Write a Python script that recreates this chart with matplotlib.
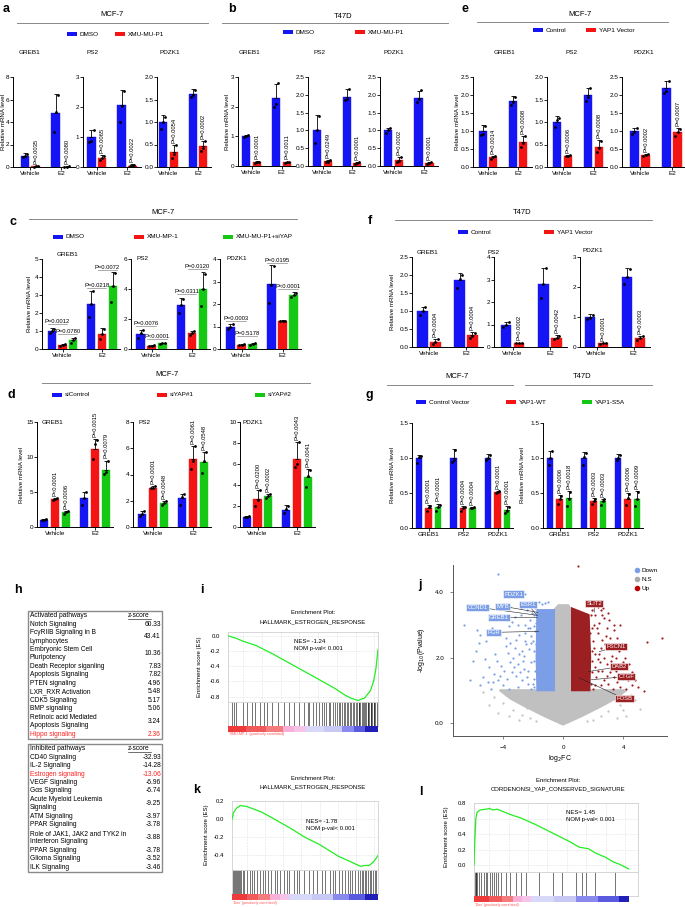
import numpy as np
import matplotlib
matplotlib.use('Agg')
import matplotlib.pyplot as plt
from matplotlib.patches import Rectangle
from matplotlib.lines import Line2D

plt.rcParams['font.family'] = ['Liberation Sans', 'DejaVu Sans']

W, H = 685, 907
fig = plt.figure(figsize=(W / 100, H / 100), dpi=100)

BLUE = '#1414f5'
RED = '#f51414'
GREEN = '#14c814'

# ---------------- data: panel a (MCF-7, DMSO vs XMU-MU-P1) ----------------
genes = ['GREB1', 'PS2', 'PDZK1']
conds = ['Vehicle', 'E2']

a_dmso = [[1.0, 4.8], [1.0, 2.07], [1.0, 1.63]]
a_dmso_sd = [[0.25, 1.65], [0.25, 0.5], [0.15, 0.1]]
a_dmso_pts = [[[0.85, 1.0, 1.2], [3.1, 4.9, 6.4]], [[0.85, 0.88, 1.25], [1.5, 2.05, 2.55]],
              [[0.85, 1.0, 1.12], [1.55, 1.6, 1.72]]]
a_xmu = [[0.05, 0.04], [0.3, 0.05], [0.33, 0.46]]
a_xmu_sd = [[0.02, 0.02], [0.1, 0.04], [0.15, 0.11]]
a_xmu_pts = [[[0.03, 0.05, 0.06], [0.03, 0.04, 0.05]], [[0.22, 0.3, 0.38], [0.03, 0.06, 0.08]],
             [[0.2, 0.3, 0.48], [0.35, 0.42, 0.57]]]
a_p = [['P=0.0035', 'P=0.0080'], ['P=0.0065', 'P=0.0022'], ['P=0.0054', 'P=0.0002']]
a_yticks = [[0, 2, 4, 6, 8], [0, 1, 2, 3], [0, 0.5, 1.0, 1.5, 2.0]]

# panel b (T47D)
b_dmso = [[1.0, 2.28], [1.0, 1.95], [1.0, 1.92]]
b_dmso_sd = [[0.03, 0.47], [0.42, 0.2], [0.07, 0.2]]
b_dmso_pts = [[[0.98, 1.0, 1.03], [2.0, 2.1, 2.8]], [[0.65, 1.0, 1.4], [1.85, 1.87, 2.15]],
              [[0.93, 1.0, 1.07], [1.8, 1.87, 2.13]]]
b_xmu = [[0.13, 0.13], [0.13, 0.08], [0.17, 0.08]]
b_xmu_sd = [[0.03, 0.02], [0.05, 0.03], [0.09, 0.03]]
b_xmu_pts = [[[0.1, 0.13, 0.15], [0.11, 0.13, 0.14]], [[0.1, 0.12, 0.17], [0.06, 0.08, 0.1]],
             [[0.1, 0.13, 0.25], [0.06, 0.08, 0.1]]]
b_p = [['P<0.0001', 'P=0.0011'], ['P=0.0249', 'P<0.0001'], ['P=0.0002', 'P<0.0001']]
b_yticks = [[0, 1, 2, 3], [0, 0.5, 1.0, 1.5, 2.0, 2.5], [0, 0.5, 1.0, 1.5, 2.0, 2.5]]

# panel e (MCF-7, Control vs YAP1 Vector)
e_ctrl = [[1.0, 1.82], [1.0, 1.6], [1.0, 2.19]]
e_ctrl_sd = [[0.17, 0.15], [0.13, 0.16], [0.08, 0.21]]
e_ctrl_pts = [[[0.9, 0.92, 1.15], [1.72, 1.8, 1.95]], [[0.88, 1.05, 1.1], [1.47, 1.55, 1.75]],
              [[0.93, 0.98, 1.07], [2.05, 2.1, 2.4]]]
e_yap = [[0.27, 0.69], [0.25, 0.45], [0.34, 0.97]]
e_yap_sd = [[0.04, 0.18], [0.01, 0.15], [0.03, 0.1]]
e_yap_pts = [[[0.23, 0.27, 0.31], [0.55, 0.66, 0.85]], [[0.24, 0.25, 0.26], [0.33, 0.42, 0.58]],
             [[0.3, 0.33, 0.37], [0.87, 0.97, 1.06]]]
e_p = [['P=0.0014', 'P=0.0008'], ['P=0.0006', 'P=0.0008'], ['P=0.0002', 'P=0.0007']]
e_yticks = [[0, 0.5, 1.0, 1.5, 2.0, 2.5], [0, 0.5, 1.0, 1.5, 2.0], [0, 0.5, 1.0, 1.5, 2.0, 2.5]]

# panel f (T47D, Control vs YAP1 Vector)
f_ctrl = [[1.0, 1.85], [1.0, 2.8], [1.0, 2.35]]
f_ctrl_sd = [[0.12, 0.2], [0.1, 0.7], [0.1, 0.3]]
f_ctrl_pts = [[[0.9, 1.0, 1.1], [1.65, 1.9, 2.0]], [[0.9, 1.0, 1.1], [2.2, 2.8, 3.5]],
              [[0.92, 0.98, 1.08], [2.1, 2.35, 2.6]]]
f_yap = [[0.15, 0.32], [0.18, 0.42], [0.12, 0.3]]
f_yap_sd = [[0.08, 0.1], [0.02, 0.1], [0.02, 0.08]]
f_yap_pts = [[[0.08, 0.15, 0.22], [0.25, 0.3, 0.4]], [[0.16, 0.18, 0.2], [0.35, 0.42, 0.5]],
             [[0.11, 0.12, 0.14], [0.25, 0.3, 0.36]]]
f_p = [['P=0.0004', 'P=0.0004'], ['P=0.0002', 'P=0.0042'], ['P=0.0001', 'P=0.0003']]
f_yticks = [[0, 0.5, 1.0, 1.5, 2.0, 2.5], [0, 1, 2, 3, 4], [0, 1, 2, 3]]

# panel c (MCF-7, DMSO / XMU-MP-1 / XMU-MU-P1+siYAP)
c_dmso = [[1.0, 2.5], [1.0, 2.93], [1.0, 2.88]]
c_dmso_sd = [[0.15, 0.75], [0.28, 0.47], [0.12, 0.84]]
c_dmso_pts = [[[0.88, 1.0, 1.12], [1.8, 2.5, 3.25]], [[0.75, 1.05, 1.25], [2.4, 2.95, 3.35]],
              [[0.88, 1.0, 1.1], [2.05, 2.85, 3.7]]]
c_xmu = [[0.22, 0.85], [0.22, 1.1], [0.2, 1.25]]
c_xmu_sd = [[0.05, 0.3], [0.03, 0.1], [0.02, 0.02]]
c_xmu_pts = [[[0.18, 0.22, 0.26], [0.55, 0.85, 1.12]], [[0.2, 0.22, 0.24], [0.95, 1.1, 1.18]],
             [[0.19, 0.2, 0.21], [1.24, 1.25, 1.26]]]
c_si = [[0.48, 3.5], [0.38, 4.03], [0.22, 2.4]]
c_si_sd = [[0.14, 0.8], [0.04, 1.12], [0.04, 0.12]]
c_si_pts = [[[0.33, 0.48, 0.6], [2.6, 3.5, 4.2]], [[0.35, 0.38, 0.41], [2.85, 4.0, 5.0]],
            [[0.2, 0.22, 0.25], [2.3, 2.4, 2.5]]]
# (group, series a, series b, bracket height, label)
c_brackets = [
    [(0, 0, 1, 1.4, 'P=0.0012'), (0, 1, 2, 0.81, 'P=0.0780'), (1, 0, 1, 3.37, 'P=0.0218'), (1, 1, 2, 4.4, 'P=0.0072')],
    [(0, 0, 1, 1.55, 'P=0.0076'), (0, 1, 2, 0.64, 'P<0.0001'), (1, 0, 1, 3.67, 'P=0.0311'), (1, 1, 2, 5.33, 'P=0.0120')],
    [(0, 0, 1, 1.24, 'P=0.0003'), (0, 1, 2, 0.59, 'P=0.5178'), (1, 0, 1, 3.84, 'P=0.0195'), (1, 1, 2, 2.68, 'P<0.0001')],
]
c_yticks = [[0, 1, 2, 3, 4, 5], [0, 2, 4, 6], [0, 1, 2, 3, 4]]

# panel d (MCF-7, siControl / siYAP#1 / siYAP#2)
d_si = [[1.0, 4.1], [1.0, 2.2], [1.0, 1.65]]
d_si_sd = [[0.1, 0.9], [0.2, 0.35], [0.05, 0.4]]
d_si_pts = [[[0.95, 1.0, 1.08], [3.2, 4.1, 5.0]], [[0.85, 1.0, 1.2], [1.7, 2.3, 2.55]],
            [[0.95, 1.0, 1.05], [1.3, 1.7, 2.0]]]
d_y1 = [[4.0, 11.2], [3.0, 5.2], [2.7, 6.5]]
d_y1_sd = [[0.2, 1.4], [0.15, 1.0], [0.85, 1.6]]
d_y1_pts = [[[3.9, 4.0, 4.2], [9.7, 11.8, 12.4]], [[2.95, 3.0, 3.15], [4.45, 5.0, 6.2]],
            [[2.0, 2.6, 3.5], [5.7, 6.0, 8.1]]]
d_y2 = [[2.1, 8.2], [1.8, 4.95], [2.95, 4.75]]
d_y2_sd = [[0.2, 1.3], [0.15, 0.75], [0.2, 0.75]]
d_y2_pts = [[[1.9, 2.1, 2.3], [7.6, 7.8, 9.4]], [[1.65, 1.85, 1.95], [4.1, 5.0, 5.7]],
            [[2.75, 2.95, 3.15], [3.8, 4.9, 5.4]]]
d_p_y1 = [['P<0.0001', 'P=0.0015'], ['P=0.0001', 'P=0.0061'], ['P=0.0200', 'P=0.0043']]
d_p_y2 = [['P=0.0006', 'P=0.0079'], ['P=0.0048', 'P=0.0548'], ['P=0.0002', 'P=0.0041']]
d_yticks = [[0, 5, 10, 15], [0, 2, 4, 6, 8], [0, 2, 4, 6, 8, 10]]

# panel g (Control Vector / YAP1-WT / YAP1-S5A), left MCF-7, right T47D
g_ctrl = [[1.0, 1.0, 1.0], [1.0, 1.0, 1.0]]
g_ctrl_sd = [[0.05, 0.13, 0.06], [0.1, 0.08, 0.06]]
g_ctrl_pts = [[[0.93, 1.02, 1.03], [0.95, 0.97, 1.12], [0.97, 1.0, 1.04]],
              [[0.9, 1.0, 1.1], [0.9, 1.02, 1.07], [0.97, 1.0, 1.05]]]
g_wt = [[0.29, 0.28, 0.52], [0.41, 0.38, 0.42]]
g_wt_sd = [[0.04, 0.03, 0.01], [0.06, 0.05, 0.08]]
g_wt_pts = [[[0.25, 0.3, 0.31], [0.25, 0.28, 0.3], [0.5, 0.52, 0.53]],
            [[0.34, 0.41, 0.46], [0.34, 0.38, 0.42], [0.33, 0.43, 0.49]]]
g_s5a = [[0.3, 0.29, 0.26], [0.43, 0.38, 0.42]]
g_s5a_sd = [[0.05, 0.01, 0.06], [0.1, 0.04, 0.11]]
g_s5a_pts = [[[0.25, 0.3, 0.33], [0.28, 0.29, 0.3], [0.21, 0.25, 0.3]],
             [[0.32, 0.42, 0.52], [0.33, 0.39, 0.41], [0.32, 0.42, 0.52]]]
g_p_wt = [['P<0.0001', 'P=0.0004', 'P<0.0001'], ['P=0.0006', 'P=0.0003', 'P=0.0006']]
g_p_s5a = [['P<0.0001', 'P=0.0004', 'P<0.0001'], ['P=0.0018', 'P=0.0003', 'P=0.0009']]
g_yticks = [0, 0.5, 1.0, 1.5]

# panel h (IPA table)
act_names = ['Notch Signaling', 'FcγRIIB Signaling in B\nLymphocytes', 'Embryonic Stem Cell\nPluripotency',
             'Death Receptor siganling', 'Apoptosis Signaling', 'PTEN signaling', 'LXR_RXR Activation',
             'CDK5 Signaling', 'BMP signaling', 'Retinoic acid Mediated\nApoptosis Signaling', 'Hippo signaling']
act_z = [60.33, 43.41, 10.36, 7.83, 7.82, 4.96, 5.48, 5.17, 5.06, 3.24, 2.36]
inh_names = ['CD40 Signaling', 'IL-2 Signaling', 'Estrogen signaling', 'VEGF Signaling', 'Gαs Signaling',
             'Acute Myeloid Leukemia\nSignaling', 'ATM Signaling', 'PPAR Signaling',
             'Role of JAK1, JAK2 and TYK2 in\nInterferon Signaling', 'PPAR Signaling', 'Glioma Signaling',
             'ILK Signaling']
inh_z = [-32.93, -14.28, -13.06, -6.96, -6.74, -9.25, -3.97, -3.78, -3.88, -3.78, -3.52, -3.46]
act_highlight = 'Hippo signaling'
inh_highlight = 'Estrogen signaling'

# GSEA running enrichment scores and hit positions (fraction of ranked list)
i_x = [0, 0.05, 0.1, 0.19, 0.3, 0.41, 0.52, 0.63, 0.72, 0.78, 0.82, 0.85, 0.87, 0.89, 0.91, 0.93, 0.95,
       0.97, 0.985, 1.0]
i_es = [0, -0.03, -0.07, -0.13, -0.24, -0.36, -0.48, -0.6, -0.7, -0.78, -0.82, -0.84, -0.85, -0.83, -0.82,
        -0.77, -0.72, -0.6, -0.45, -0.18]
i_hits = [0.026, 0.037, 0.055, 0.103, 0.129, 0.158, 0.179, 0.212, 0.239, 0.26, 0.295, 0.333, 0.376, 0.409,
          0.442, 0.475, 0.508, 0.53, 0.54, 0.567, 0.584, 0.606, 0.624, 0.639, 0.654, 0.672, 0.683, 0.698,
          0.716, 0.726, 0.737, 0.748, 0.759, 0.77, 0.78, 0.79, 0.8, 0.81, 0.82, 0.83, 0.84, 0.85, 0.86, 0.87,
          0.875, 0.88, 0.89, 0.9, 0.905, 0.91, 0.92, 0.93, 0.935, 0.94, 0.95, 0.955, 0.96, 0.97, 0.975, 0.98,
          0.99]
k_x = [0, 0.01, 0.03, 0.057, 0.1, 0.2, 0.28, 0.4, 0.5, 0.6, 0.73, 0.8, 0.88, 0.91, 0.94, 0.97, 1.0]
k_es = [0.0, 0.07, 0.12, 0.15, 0.14, 0.08, 0.01, -0.1, -0.2, -0.28, -0.41, -0.46, -0.52, -0.51, -0.51,
        -0.47, -0.4]
k_hits = [0.005, 0.012, 0.02, 0.028, 0.035, 0.043, 0.05, 0.058, 0.065, 0.075, 0.085, 0.1, 0.12, 0.137,
          0.153, 0.169, 0.191, 0.209, 0.227, 0.247, 0.265, 0.292, 0.308, 0.326, 0.353, 0.375, 0.393, 0.427,
          0.443, 0.461, 0.494, 0.528, 0.555, 0.584, 0.618, 0.64, 0.674, 0.69, 0.708, 0.735, 0.753, 0.775,
          0.793, 0.809, 0.825, 0.843, 0.865, 0.876, 0.888, 0.9, 0.91, 0.92, 0.933, 0.944, 0.955, 0.966,
          0.978, 0.989]
l_x = [0, 0.005, 0.012, 0.02, 0.04, 0.08, 0.1, 0.12, 0.15, 0.2, 0.25, 0.3, 0.4, 0.47, 0.55, 0.62, 0.68,
       0.74, 0.79, 0.85, 0.9, 0.94, 1.0]
l_es = [0.0, 0.3, 0.6, 0.68, 0.71, 0.72, 0.73, 0.71, 0.72, 0.68, 0.64, 0.61, 0.52, 0.45, 0.37, 0.3, 0.23,
        0.21, 0.15, 0.1, 0.04, 0.01, -0.05]
l_hits = [0.005, 0.01, 0.015, 0.02, 0.03, 0.047, 0.062, 0.075, 0.084, 0.101, 0.118, 0.127, 0.14, 0.155,
          0.176, 0.204, 0.234, 0.273, 0.305, 0.338, 0.419, 0.51, 0.57, 0.66, 0.699, 0.725, 0.785, 0.914]

rank_colors = ['#ee3a3a', '#f05a5a', '#f47c7c', '#f8b0d8', '#f5c4e8', '#d8d8f8', '#c8c8f4', '#8a8aee',
               '#5a5ae0', '#2020b8']
i_rank_edges = [0, 0.12, 0.25, 0.365, 0.44, 0.52, 0.64, 0.76, 0.84, 0.91, 1.0]
k_rank_edges = [0, 0.1, 0.18, 0.26, 0.33, 0.39, 0.55, 0.69, 0.8, 0.91, 1.0]
l_rank_edges = [0, 0.1, 0.18, 0.25, 0.31, 0.37, 0.52, 0.66, 0.8, 0.94, 1.0]

# panel j volcano (log2FC, -log10 P)
down_pts = [(-6.6, 3.0), (-5.7, 2.85), (-5.5, 2.7), (-5.6, 2.45), (-5.8, 2.2), (-5.2, 1.95), (-4.9, 1.7),
            (-4.6, 1.5), (-4.3, 1.3), (-4.0, 1.15), (-3.8, 2.6), (-3.6, 1.05), (-3.4, 3.1), (-3.2, 2.3),
            (-3.0, 1.8), (-2.8, 3.5), (-2.6, 2.05), (-2.4, 1.4), (-2.2, 2.9), (-2.0, 1.2), (-1.9, 3.3),
            (-1.8, 2.4), (-5.0, 1.25), (-4.5, 2.1), (-4.2, 2.75), (-3.9, 1.6), (-3.5, 1.85), (-3.1, 2.55),
            (-2.7, 2.2), (-2.3, 1.6), (-2.1, 2.65), (-1.95, 1.9), (-4.8, 1.05), (-4.4, 1.9), (-3.7, 1.35),
            (-3.3, 2.0), (-2.9, 2.7), (-2.5, 3.0), (-2.2, 3.15), (-1.85, 2.8), (-3.0, 1.1), (-2.6, 1.65),
            (-2.4, 3.45), (-2.0, 2.5), (-3.8, 2.35), (-3.4, 1.55), (-2.8, 3.3), (-2.3, 2.9), (-1.9, 1.35),
            (-4.1, 1.75), (-3.6, 2.95), (-3.2, 3.25), (-2.7, 1.3), (-2.1, 1.85), (-1.8, 3.05), (-2.7, 4.0),
            (-2.5, 3.95), (-1.6, 3.7), (-1.4, 3.65), (-1.2, 3.68), (-1.0, 3.7), (-4.3, 4.55), (-5.3, 1.4),
            (-6.0, 1.9), (-4.7, 2.9), (-3.9, 3.3), (-5.1, 2.5), (-2.45, 2.4), (-2.15, 1.05), (-1.9, 2.2),
            (-3.5, 2.45), (-3.1, 1.45), (-2.9, 2.1), (-2.55, 2.75), (-2.25, 2.25), (-2.05, 3.35), (-1.95, 2.95),
            (-1.85, 1.6), (-2.35, 1.2), (-2.65, 1.9), (-3.25, 1.7), (-3.65, 2.15), (-4.15, 1.45), (-4.65, 1.25),
            (-2.85, 1.55), (-2.15, 2.45), (-1.9, 1.1), (-2.5, 2.5), (-3.0, 3.0), (-3.55, 3.55), (-2.05, 3.6),
            (-1.85, 3.5), (-5.5, 1.15), (-6.2, 1.3), (-4.4, 3.2)]
up_pts = [(6.6, 2.6), (5.55, 2.48), (5.4, 0.98), (4.6, 1.15), (4.3, 1.3), (4.0, 1.5), (3.7, 1.7), (3.5, 2.0),
          (3.3, 2.3), (3.1, 2.6), (2.9, 2.9), (2.7, 3.2), (2.5, 3.45), (2.3, 3.55), (2.1, 3.3), (2.0, 2.5),
          (1.9, 1.9), (1.85, 1.2), (2.2, 1.4), (2.4, 2.1), (2.6, 1.6), (2.8, 2.4), (3.0, 1.2), (3.2, 1.9),
          (3.4, 1.4), (3.6, 2.6), (3.8, 1.1), (4.1, 2.0), (4.4, 1.8), (4.8, 1.3), (2.3, 2.75), (2.05, 3.0),
          (1.95, 2.2), (2.15, 1.7), (2.5, 1.15), (2.75, 2.0), (3.05, 3.15), (3.4, 2.85), (3.9, 2.4),
          (4.6, 1.55), (2.6, 2.55), (2.2, 3.6), (1.9, 3.45), (2.9, 1.45), (3.3, 1.05), (1.0, 4.8), (1.7, 3.7),
          (2.6, 3.3), (3.0, 3.35), (1.8, 2.75), (3.6, 1.25), (4.2, 1.05), (2.45, 1.85), (2.0, 1.05),
          (2.05, 2.3), (2.25, 2.9), (2.35, 1.95), (2.55, 2.3), (2.7, 1.3), (2.85, 2.65), (3.15, 1.55),
          (3.25, 2.05), (3.5, 1.6), (3.7, 2.2), (3.95, 1.35), (2.4, 3.05), (1.95, 1.55), (1.9, 2.9),
          (2.15, 1.15), (2.65, 3.5), (2.95, 1.8), (3.35, 3.0), (4.0, 1.85), (4.5, 1.4), (5.0, 1.1), (2.1, 2.1),
          (2.3, 1.6), (1.85, 3.3), (3.8, 3.0)]
ns_pts = [(-5.3, 0.95), (-4.6, 0.8), (-4.0, 0.6), (-3.3, 0.4), (-2.7, 0.25), (-2.2, 0.15), (-4.9, 0.55),
          (-3.7, 0.85), (4.5, 0.85), (5.1, 0.43), (3.8, 0.55), (3.0, 0.35), (2.5, 0.2), (4.2, 0.2), (4.8, 0.7),
          (3.4, 0.8), (0.3, 3.6), (-0.2, 3.55), (-3.0, 0.65), (2.0, 0.1), (-1.8, 0.05), (-4.3, 0.3),
          (-3.6, 0.2), (-2.9, 0.1), (3.6, 0.15), (4.0, 0.4), (2.8, 0.6), (-2.4, 0.45), (1.6, 0.05)]
# outlines of the densely packed point clouds
ns_env = [(0, -0.05), (-1.2, 0.2), (-2.5, 0.5), (-3.5, 0.75), (-4.2, 1.0), (-0.6, 1.0), (-0.6, 3.45),
          (-0.3, 3.6), (0.3, 3.6), (0.6, 3.45), (0.6, 1.0), (4.2, 1.0), (3.5, 0.75), (2.5, 0.5), (1.2, 0.2)]
down_env = [(-0.6, 1.0), (-1.7, 1.0), (-1.75, 2.0), (-1.7, 3.45), (-0.6, 3.45)]
up_env = [(0.6, 1.0), (1.75, 1.0), (1.8, 2.0), (1.7, 3.3), (0.6, 3.5)]
down_genes = ['PDZK1', 'CCND1', 'MYB', 'ESR1', 'GREB1', 'PGR']
down_gene_xy = [(-3.27, 3.94), (-1.67, 3.29), (-1.67, 3.38), (-1.75, 3.3), (-1.7, 3.22), (-1.6, 2.8)]
down_box_xy = [(-3.27, 3.94), (-5.67, 3.54), (-4.0, 3.57), (-2.33, 3.63), (-4.27, 3.23), (-4.6, 2.77)]
up_genes = ['SLIT2', 'FSCN1', 'DAB2', 'CTGF', 'FOSB']
up_gene_xy = [(2.07, 3.38), (2.4, 2.18), (1.67, 1.57), (1.87, 1.32), (1.07, 1.38)]
up_box_xy = [(2.07, 3.66), (3.53, 2.34), (3.73, 1.72), (4.2, 1.42), (4.07, 0.74)]

VBLUE = '#7b9ee6'
VRED = '#9c1f22'
VGREY = '#c0c0c0'


def px_axes(x0, y0, x1, y1):
    return fig.add_axes([x0 / W, 1 - y1 / H, (x1 - x0) / W, (y1 - y0) / H])


def tick_labels(ticks):
    if all(float(t).is_integer() for t in ticks):
        return ['%d' % t for t in ticks]
    return ['%.1f' % t for t in ticks]


def bar_axes(spine_x, c0, c1, ytop, ybot, ngroups, yticks, xlabels):
    d = (c1 - c0) / (ngroups - 1)
    ax = px_axes(spine_x, ytop, c1 + 0.45 * d, ybot)
    ax.set_xlim(-(c0 - spine_x) / d, ngroups - 1 + 0.45)
    ax.set_ylim(0, yticks[-1])
    ax.set_yticks(yticks)
    ax.set_yticklabels(tick_labels(yticks))
    ax.set_xticks(range(ngroups))
    ax.set_xticklabels(xlabels)
    ax.set_facecolor('none')
    for s in ['top', 'right']:
        ax.spines[s].set_visible(False)
    for s in ['left', 'bottom']:
        ax.spines[s].set_linewidth(0.7)
    ax.tick_params(labelsize=4.6, length=2, width=0.6, pad=1)
    ax.tick_params(axis='y', pad=0.6)
    return ax


def draw_bars(ax, series, sds, pts, colors, width, step):
    n = len(series)
    for s in range(n):
        for g in range(len(series[s])):
            x = g + (s - (n - 1) / 2) * step
            m = series[s][g]
            ax.bar(x, m, width, color=colors[s], edgecolor=colors[s], lw=0.3, zorder=1)
            ax.errorbar(x, m, yerr=[[0], [sds[s][g]]], fmt='none', ecolor='k', elinewidth=0.6,
                        capsize=1.3, capthick=0.6, zorder=2, clip_on=False)
            ax.plot(x + np.array([-0.25, 0, 0.25]) * width, pts[s][g], 'o', ms=2.0, color='k',
                    mec='none', zorder=3, clip_on=False)


def p_label(ax, x, top, text):
    ax.annotate(text, (x, top), xytext=(0, 1.5), textcoords='offset points', rotation=90,
                ha='center', va='bottom', fontsize=4.2)


def pair_panel(spines, ytop, ybot, s1, s1sd, s1pts, s2, s2sd, s2pts, pvals, yticks):
    for i, (sx, c0, c1) in enumerate(spines):
        ax = bar_axes(sx, c0, c1, ytop, ybot, 2, yticks[i], conds)
        draw_bars(ax, [s1[i], s2[i]], [s1sd[i], s2sd[i]], [s1pts[i], s2pts[i]], [BLUE, RED], 0.28, 0.35)
        for g in range(2):
            p_label(ax, g + 0.175, s2[i][g] + s2sd[i][g], pvals[i][g])


# ---------------- panels a, b, e, f ----------------
pair_panel([(13, 30.3, 61.2), (83, 96.7, 127), (157, 168.5, 198)], 77, 167,
           a_dmso, a_dmso_sd, a_dmso_pts, a_xmu, a_xmu_sd, a_xmu_pts, a_p, a_yticks)
pair_panel([(238, 251.5, 281.5), (308, 322.5, 352), (380, 393.5, 424)], 77, 166,
           b_dmso, b_dmso_sd, b_dmso_pts, b_xmu, b_xmu_sd, b_xmu_pts, b_p, b_yticks)
pair_panel([(473, 488, 518), (547, 562.5, 593.5), (622, 640, 672)], 77, 167,
           e_ctrl, e_ctrl_sd, e_ctrl_pts, e_yap, e_yap_sd, e_yap_pts, e_p, e_yticks)
pair_panel([(412, 429, 466), (494, 512.5, 550), (580, 596.5, 633.5)], 257, 347,
           f_ctrl, f_ctrl_sd, f_ctrl_pts, f_yap, f_yap_sd, f_yap_pts, f_p, f_yticks)

# ---------------- panel c ----------------
c_spines = [(42, 62.5, 102), (131, 151.5, 192), (220, 241.5, 282.5)]
step3, width3 = 0.27, 0.21
for i, (sx, c0, c1) in enumerate(c_spines):
    ax = bar_axes(sx, c0, c1, 259, 349, 2, c_yticks[i], conds)
    draw_bars(ax, [c_dmso[i], c_xmu[i], c_si[i]], [c_dmso_sd[i], c_xmu_sd[i], c_si_sd[i]],
              [c_dmso_pts[i], c_xmu_pts[i], c_si_pts[i]], [BLUE, RED, GREEN], width3, step3)
    for g, sa, sb, yb, txt in c_brackets[i]:
        xa = g + (sa - 1) * step3 - width3 / 2
        xb = g + (sb - 1) * step3 + width3 / 2
        ax.plot([xa, xb], [yb, yb], color='#888888', lw=0.5, clip_on=False)
        ax.text((xa + xb) / 2, yb, txt, ha='center', va='bottom', fontsize=4.2)

# ---------------- panel d ----------------
d_spines = [(37, 55, 95), (133, 153, 193), (240, 257.5, 297)]
for i, (sx, c0, c1) in enumerate(d_spines):
    ax = bar_axes(sx, c0, c1, 422, 527, 2, d_yticks[i], conds)
    draw_bars(ax, [d_si[i], d_y1[i], d_y2[i]], [d_si_sd[i], d_y1_sd[i], d_y2_sd[i]],
              [d_si_pts[i], d_y1_pts[i], d_y2_pts[i]], [BLUE, RED, GREEN], width3, step3)
    for g in range(2):
        p_label(ax, g, d_y1[i][g] + d_y1_sd[i][g], d_p_y1[i][g])
        p_label(ax, g + step3, d_y2[i][g] + d_y2_sd[i][g], d_p_y2[i][g])

# ---------------- panel g ----------------
for k, (sx, c0, c1) in enumerate([(412, 428.5, 497.5), (543, 559.5, 627.5)]):
    ax = bar_axes(sx, c0, c1, 423, 528, 3, g_yticks, genes)
    draw_bars(ax, [g_ctrl[k], g_wt[k], g_s5a[k]], [g_ctrl_sd[k], g_wt_sd[k], g_s5a_sd[k]],
              [g_ctrl_pts[k], g_wt_pts[k], g_s5a_pts[k]], [BLUE, RED, GREEN], 0.19, 0.275)
    for g in range(3):
        p_label(ax, g, g_wt[k][g] + g_wt_sd[k][g], g_p_wt[k][g])
        p_label(ax, g + 0.275, g_s5a[k][g] + g_s5a_sd[k][g], g_p_s5a[k][g])


# ---------------- GSEA panels i, k, l ----------------
def gsea(box_es, hit_y, cb_y, xs, es, ylim, yticks, hits, edges, xmax, nes, nes_xy):
    x0, y0, x1, y1 = box_es
    ax = px_axes(x0, y0, x1, y1)
    ax.plot(xs, es, color='#22ee22', lw=0.9, zorder=3)
    ax.set_xlim(0, xmax)
    ax.set_ylim(*ylim)
    ax.set_yticks(yticks)
    ax.set_yticklabels(['%.1f' % t for t in yticks])
    ax.set_xticks(np.arange(0.1, xmax, 0.125))
    ax.set_xticklabels([])
    ax.tick_params(length=0, labelsize=4.3, pad=6)
    ax.grid(color='#e2e2e2', lw=0.4, ls='--')
    for s in ax.spines.values():
        s.set_color('#d0d0d0')
        s.set_linewidth(0.6)
    ax.text(nes_xy[0], nes_xy[1], 'NES= %s\nNOM p-val< 0.001' % nes, transform=ax.transAxes,
            fontsize=4.3, va='top', ha='left', linespacing=1.5)
    ah = px_axes(x0, hit_y[0], x1, hit_y[1])
    ah.vlines(hits, 0, 1, color='k', lw=0.7, alpha=0.55)
    ah.set_xlim(0, xmax)
    ah.set_ylim(0, 1)
    ah.set_xticks([])
    ah.set_yticks([])
    for s in ah.spines.values():
        s.set_color('#d0d0d0')
        s.set_linewidth(0.6)
    ac = px_axes(x0, cb_y[0], x1, cb_y[1])
    for e0, e1, c in zip(edges[:-1], edges[1:], rank_colors):
        ac.axvspan(e0, e1, color=c, lw=0)
    ac.set_xlim(0, xmax)
    ac.axis('off')


gsea((228, 632, 378, 702), (702, 726), (726, 732), i_x, i_es, (-0.87, 0.05),
     [0.0, -0.2, -0.4, -0.6, -0.8], i_hits, i_rank_edges, 1.0, '-1.24', (0.44, 0.9))
gsea((232, 801, 378, 870), (870, 894), (894, 900), k_x, k_es, (-0.56, 0.2),
     [0.2, 0.0, -0.2, -0.4], k_hits, k_rank_edges, 1.0, '-1.78', (0.51, 0.74))
gsea((474, 803, 638, 872), (872, 896), (896, 902), l_x, l_es, (-0.09, 0.8),
     [0.8, 0.6, 0.4, 0.2, 0.0], l_hits, l_rank_edges, 1.06, '1.45', (0.56, 0.9))

# ---------------- panel j volcano ----------------
axv = px_axes(453, 565, 667, 736)
axv.set_xlim(-7.3, 6.9)
axv.set_ylim(-0.4, 4.83)
axv.fill(*zip(*ns_env), color=VGREY, lw=1.5, ec=VGREY, zorder=1)
axv.fill(*zip(*down_env), color=VBLUE, lw=1.5, ec=VBLUE, zorder=2)
axv.fill(*zip(*up_env), color=VRED, lw=1.5, ec=VRED, zorder=2)
axv.scatter(*zip(*ns_pts), s=2.5, color=VGREY, lw=0, zorder=2)
axv.scatter(*zip(*down_pts), s=2.5, color=VBLUE, lw=0, zorder=3)
axv.scatter(*zip(*up_pts), s=2.5, color=VRED, lw=0, zorder=3)
for name, gxy, bxy in zip(down_genes, down_gene_xy, down_box_xy):
    axv.annotate(name, gxy, xytext=bxy, ha='center', va='center', fontsize=4.2, color='white', zorder=5,
                 bbox=dict(boxstyle='square,pad=0.2', fc=VBLUE, ec='white', lw=0.4),
                 arrowprops=dict(arrowstyle='-', color='#222222', lw=0.4, shrinkA=0, shrinkB=0))
for name, gxy, bxy in zip(up_genes, up_gene_xy, up_box_xy):
    axv.annotate(name, gxy, xytext=bxy, ha='center', va='center', fontsize=4.2, color='white', zorder=5,
                 bbox=dict(boxstyle='square,pad=0.2', fc=VRED, ec='white', lw=0.4),
                 arrowprops=dict(arrowstyle='-', color='#222222', lw=0.4, shrinkA=0, shrinkB=0))
axv.set_xticks([-4, 0, 4])
axv.set_yticks([0, 2, 4])
axv.set_yticklabels(['0.0', '2.0', '4.0'])
for s in ['top', 'right']:
    axv.spines[s].set_visible(False)
for s in ['left', 'bottom']:
    axv.spines[s].set_color('#555555')
    axv.spines[s].set_linewidth(0.7)
axv.tick_params(labelsize=4.5, length=2.5, width=0.5, color='#555555', pad=4)
axv.set_xlabel(r'log$_2$FC', fontsize=5, labelpad=2)
axv.set_ylabel(r'-log$_{10}$(Pvalue)', fontsize=5, labelpad=6)
handles = [Line2D([], [], ls='', marker='o', ms=4, color=c, mec='none') for c in [VBLUE, '#a8a8a8', '#c00000']]
axv.legend(handles, ['Down', 'N.S', 'Up'], loc='upper left', bbox_to_anchor=(0.83, 1.0), frameon=False,
           fontsize=4.6, handletextpad=0.1, labelspacing=0.55, borderaxespad=0, handlelength=1.2)

# ---------------- overlay: headers, legends, labels, table ----------------
ov = fig.add_axes([0, 0, 1, 1], zorder=10)
ov.set_xlim(0, W)
ov.set_ylim(H, 0)
ov.axis('off')

headers = [('MCF-7', 112, 15, 17, 208, 23), ('T47D', 343, 16, 222, 448, 23), ('MCF-7', 580, 15, 477, 668, 22),
           ('MCF-7', 163, 212, 29, 297, 219), ('T47D', 522, 212, 395, 652, 220),
           ('MCF-7', 167, 375, 42, 310, 383), ('MCF-7', 457, 377, 387, 513, 385),
           ('T47D', 582, 377, 525, 652, 385)]
for txt, x, y, lx0, lx1, ly in headers:
    ov.text(x, y, txt, ha='center', va='center', fontsize=5.5)
    ov.plot([lx0, lx1], [ly, ly], color='#888888', lw=0.7)

legends = [(34, [(67, BLUE, 'DMSO'), (115, RED, 'XMU-MU-P1')]),
           (32, [(283, BLUE, 'DMSO'), (355, RED, 'XMU-MU-P1')]),
           (30, [(533, BLUE, 'Control'), (586, RED, 'YAP1 Vector')]),
           (237, [(53, BLUE, 'DMSO'), (134, RED, 'XMU-MP-1'), (223, GREEN, 'XMU-MU-P1+siYAP')]),
           (232, [(458, BLUE, 'Control'), (544, RED, 'YAP1 Vector')]),
           (395, [(52, BLUE, 'siControl'), (157, RED, 'siYAP#1'), (255, GREEN, 'siYAP#2')]),
           (402, [(416, BLUE, 'Control Vector'), (506, RED, 'YAP1-WT'), (582, GREEN, 'YAP1-S5A')])]
for y, items in legends:
    for x, c, txt in items:
        ov.add_patch(Rectangle((x, y - 2), 10, 4, color=c, lw=0))
        ov.text(x + 13, y, txt, ha='left', va='center', fontsize=4.6)

centred_titles = [('GREB1', 30, 52), ('PS2', 93, 52), ('PDZK1', 170, 53), ('GREB1', 250, 52), ('PS2', 320, 52),
                  ('PDZK1', 394, 53), ('GREB1', 505, 53), ('PS2', 572, 53), ('PDZK1', 644, 53)]
for txt, x, y in centred_titles:
    ov.text(x, y, txt, ha='center', va='center', fontsize=4.6)
left_titles = [('GREB1', 57, 255), ('PS2', 137, 258), ('PDZK1', 227, 259), ('GREB1', 417, 252),
               ('PS2', 488, 253), ('PDZK1', 583, 250), ('GREB1', 42, 422), ('PS2', 139, 422),
               ('PDZK1', 243, 422)]
for txt, x, y in left_titles:
    ov.text(x, y, txt, ha='left', va='center', fontsize=4.6)

for x, y in [(3.5, 122), (228, 122), (458, 122), (30, 304), (393, 302), (22, 475), (393, 475), (523, 475)]:
    ov.text(x, y, 'Relative mRNA level', rotation=90, ha='center', va='center', fontsize=4.4)

for txt, x, y in [('a', 3, 9), ('b', 228, 9), ('e', 462, 9), ('c', 10, 222), ('f', 368, 221), ('d', 8, 395),
                  ('g', 366, 395), ('h', 14, 590), ('i', 200, 590), ('j', 418, 585), ('k', 193, 790),
                  ('l', 419, 792)]:
    ov.text(x, y, txt, ha='left', va='center', fontsize=9, fontweight='bold')

for x, y, t in [(313, 613, 'Enrichment Plot:'), (313, 622, 'HALLMARK_ESTROGEN_RESPONSE'),
                (313, 778, 'Enrichment Plot:'), (313, 787, 'HALLMARK_ESTROGEN_RESPONSE'),
                (558, 781, 'Enrichment Plot:'), (558, 789, 'CORDENONSI_YAP_CONSERVED_SIGNATURE')]:
    ov.text(x, y, t, ha='center', va='center', fontsize=4.3)
for x, y in [(200, 667), (207, 835), (447, 837)]:
    ov.text(x, y, 'Enrichment score (ES)', rotation=90, ha='center', va='center', fontsize=4.3)
for x, y, t in [(229, 734, "'XMU-MP-1' (positively correlated)"), (233, 903, "'Dex' (positively correlated)"),
                (475, 905, "'Dex' (positively correlated)")]:
    ov.text(x, y, t, ha='left', va='center', fontsize=2.6, color='#ff5050')

# table h
row_h = 8.45


def table(top, bottom, header, names, zs, highlight):
    ov.add_patch(Rectangle((28, top), 134, bottom - top, fill=False, ec='#8a8a8a', lw=1.0))
    y = top + 4.7
    ov.text(30, y, header, ha='left', va='center', fontsize=4.8)
    ov.text(139, y, 'z-score', ha='center', va='center', fontsize=4.8)
    ov.plot([128, 151], [y + 3.5, y + 3.5], color='k', lw=0.4)
    y += row_h
    for name, z in zip(names, zs):
        lines = name.split('\n')
        col = '#ff2020' if name == highlight else 'k'
        for j, ln in enumerate(lines):
            ov.text(30, y + j * row_h, ln, ha='left', va='center', fontsize=4.8, color=col)
        ov.text(161, y + (len(lines) - 1) * row_h / 2, '%.2f' % z, ha='right', va='center',
                fontsize=4.8, color=col)
        y += len(lines) * row_h


table(611, 739, 'Activated pathways', act_names, act_z, act_highlight)
table(744, 872, 'Inhibited pathways', inh_names, inh_z, inh_highlight)

fig.savefig('out.png', dpi=100)
